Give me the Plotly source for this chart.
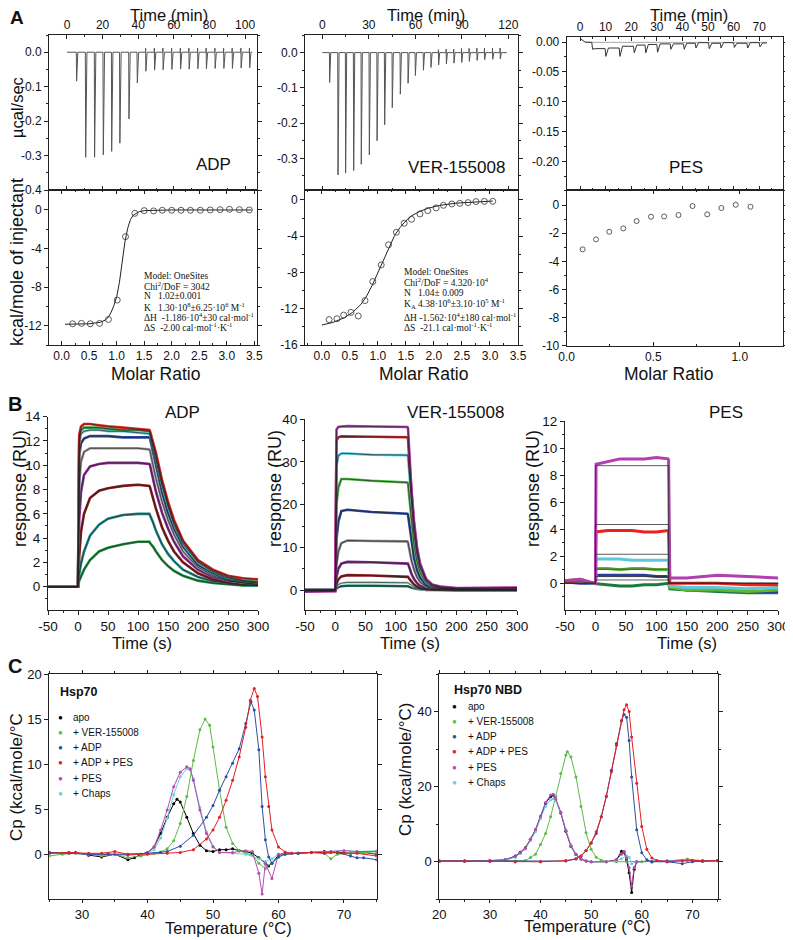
import plotly.graph_objects as go

# The page body has an 8 px margin; the figure is sized to the remaining window
OFF = 8
W, H = 793 - OFF, 940 - OFF
def fx(p): return (p - OFF) / W
def fy(p): return 1 - (p - OFF) / H

SANS = "Arial, Liberation Sans, sans-serif"
SERIF = "Times New Roman, Liberation Serif, serif"

# ---------------- Panel A: ITC raw data ----------------
adp_inj_t = [5.2, 10.3, 15.3, 20.2, 24.9, 29.5, 34.6, 39.3, 44.1, 49.0, 53.8, 58.7, 63.6, 68.4, 73.3, 78.1, 83.0, 87.9, 92.7, 97.6, 102.4]
adp_peak = [-0.084, -0.305, -0.305, -0.298, -0.288, -0.264, -0.194, -0.089, -0.055, -0.052, -0.051, -0.050, -0.049, -0.049, -0.048, -0.048, -0.047, -0.047, -0.047, -0.046, -0.045]
adp_over = [0, 0, 0, 0, 0, 0, 0, 0, 0.012, 0.012, 0.012, 0.012, 0.012, 0.012, 0.012, 0.012, 0.012, 0.012, 0.012, 0.012, 0.012]
adp_run_end = 104.0

ver_inj_t = [4.5, 9.9, 14.8, 20.0, 24.9, 30.1, 35.1, 40.0, 44.9, 50.1, 55.1, 59.8, 65.0, 69.9, 74.8, 79.8, 84.7, 89.7, 94.6, 99.6, 104.5, 109.7, 114.6]
ver_peak = [-0.085, -0.347, -0.342, -0.335, -0.317, -0.290, -0.250, -0.205, -0.156, -0.118, -0.087, -0.065, -0.050, -0.042, -0.035, -0.032, -0.030, -0.028, -0.025, -0.022, -0.020, -0.019, -0.018]
ver_over = [0] * 14 + [0.008, 0.010, 0.010, 0.012, 0.012, 0.013, 0.013, 0.013, 0.013]
ver_run_end = 119.0

pes_inj_t = [4.6, 9.8, 15.3, 20.9, 25.4, 30.0, 35.2, 40.4, 45.0, 50.2, 54.8, 60.0, 65.2, 70.0]
pes_peak = [-0.012, -0.024, -0.024, -0.018, -0.018, -0.017, -0.012, -0.012, -0.010, -0.011, -0.010, -0.009, -0.010, -0.008]
pes_base = [-0.0005, -0.011, -0.010, -0.007, -0.005, -0.004, -0.003, -0.003, -0.002, -0.001, -0.002, -0.001, -0.002, -0.001, -0.0015]
pes_start_t = [0, 2]
pes_start_v = [0.006, 0.0]
pes_run_end = 73.0
pes_ref_t = [2, 73]
pes_ref_v = [-0.0005, -0.0005]

# ---------------- Panel A: integrated heats ----------------
adp_mr = [0.20, 0.36, 0.52, 0.69, 0.85, 1.01, 1.16, 1.33, 1.50, 1.67, 1.83, 2.00, 2.17, 2.34, 2.52, 2.70, 2.88, 3.05, 3.23, 3.41]
adp_heat = [-11.8, -11.76, -11.8, -11.76, -11.35, -9.34, -2.77, -0.35, -0.07, -0.10, -0.03, -0.03, -0.03, -0.03, -0.03, 0.0, 0.03, 0.07, 0.03, 0.0]
adp_fit_x = [0.06, 0.3, 0.5, 0.7, 0.8, 0.85, 0.9, 0.95, 1.0, 1.05, 1.1, 1.15, 1.2, 1.25, 1.3, 1.4, 1.5, 1.7, 2.0, 3.45]
adp_fit_y = [-11.85, -11.85, -11.8, -11.65, -11.4, -11.1, -10.6, -9.9, -9.0, -7.5, -5.4, -3.3, -1.9, -1.0, -0.55, -0.2, -0.07, -0.02, 0.0, 0.0]

ver_mr = [0.13, 0.27, 0.39, 0.52, 0.65, 0.77, 0.91, 1.06, 1.19, 1.33, 1.47, 1.60, 1.75, 1.89, 2.04, 2.17, 2.32, 2.46, 2.61, 2.75, 2.90, 3.05]
ver_heat = [-13.2, -13.1, -12.7, -12.4, -12.8, -11.1, -9.0, -7.16, -4.95, -3.56, -2.57, -2.13, -1.54, -1.17, -0.88, -0.59, -0.44, -0.37, -0.29, -0.18, -0.15, -0.15]
ver_fit_x = [0.0, 0.2, 0.4, 0.55, 0.7, 0.8, 0.9, 1.0, 1.1, 1.2, 1.3, 1.4, 1.5, 1.6, 1.75, 1.9, 2.1, 2.4, 2.7, 3.05]
ver_fit_y = [-13.8, -13.5, -13.0, -12.4, -11.5, -10.6, -9.4, -8.0, -6.5, -5.1, -3.9, -3.0, -2.3, -1.75, -1.25, -0.9, -0.6, -0.35, -0.22, -0.12]

pes_mr = [0.092, 0.169, 0.246, 0.327, 0.404, 0.487, 0.563, 0.646, 0.727, 0.812, 0.894, 0.977, 1.062]
pes_heat = [-3.15, -2.44, -1.9, -1.66, -1.14, -0.83, -0.81, -0.71, -0.07, -0.66, -0.21, 0.02, -0.12]

# ---------------- Panel B: SPR sensorgrams ----------------
spr_adp_t = [-50, -1, 0, 2, 5, 10, 20, 35, 50, 75, 100, 119, 120, 125, 130, 140, 150, 160, 175, 200, 225, 250, 275, 300]
spr_adp = {
    "#e8282b": [0, 0, 0, 12.5, 13.2, 13.4, 13.4, 13.3, 13.2, 13.1, 13.0, 12.9, 12.8, 12.0, 11.0, 8.8, 7.0, 5.5, 3.8, 2.2, 1.4, 0.9, 0.7, 0.6],
    "#3fa14a": [0, 0, 0, 12.2, 12.9, 13.1, 13.1, 13.1, 13.0, 12.9, 12.9, 12.8, 12.7, 11.8, 10.8, 8.6, 6.8, 5.3, 3.7, 2.1, 1.3, 0.8, 0.5, 0.4],
    "#5bc8d5": [0, 0, 0, 11.8, 12.6, 12.8, 12.9, 12.9, 12.8, 12.8, 12.7, 12.6, 12.5, 11.5, 10.5, 8.3, 6.6, 5.1, 3.5, 2.0, 1.2, 0.7, 0.5, 0.3],
    "#2c4aa0": [0, 0, 0, 10.8, 11.8, 12.2, 12.4, 12.4, 12.4, 12.3, 12.3, 12.3, 12.2, 11.1, 10.0, 7.8, 6.1, 4.8, 3.3, 1.8, 1.1, 0.6, 0.4, 0.3],
    "#9a9a9a": [0, 0, 0, 8.5, 10.3, 11.1, 11.4, 11.4, 11.4, 11.4, 11.4, 11.3, 11.2, 10.0, 8.9, 7.0, 5.5, 4.3, 2.9, 1.6, 0.9, 0.5, 0.3, 0.2],
    "#8e2a91": [0, 0, 0, 5.5, 7.8, 9.2, 9.9, 10.1, 10.2, 10.2, 10.2, 10.1, 10.0, 8.9, 7.8, 6.1, 4.8, 3.7, 2.5, 1.4, 0.8, 0.45, 0.3, 0.2],
    "#8b1a1a": [0, 0, 0, 2.5, 4.5, 6.0, 7.3, 7.9, 8.1, 8.3, 8.4, 8.3, 8.2, 7.3, 6.4, 4.9, 3.8, 2.9, 2.0, 1.1, 0.6, 0.35, 0.2, 0.15],
    "#1f8a8a": [0, 0, 0, 1.0, 1.9, 2.9, 4.2, 5.1, 5.6, 5.9, 6.0, 6.0, 5.9, 5.3, 4.6, 3.5, 2.7, 2.1, 1.4, 0.8, 0.45, 0.3, 0.15, 0.1],
    "#1e8c3c": [0, 0, 0, 0.5, 0.9, 1.4, 2.2, 2.9, 3.2, 3.5, 3.7, 3.7, 3.6, 3.3, 2.9, 2.2, 1.7, 1.3, 0.9, 0.5, 0.3, 0.2, 0.1, 0.1],
}

spr_ver_t = [-50, -1, 0, 2, 5, 10, 20, 60, 119, 120, 123, 126, 130, 135, 140, 150, 160, 175, 200, 250, 300]
spr_ver = {
    "#b53bb0": [-0.4, -0.3, -0.3, 37.6, 38.2, 38.3, 38.4, 38.3, 38.2, 38.0, 30.5, 23.0, 16.2, 10.0, 6.2, 2.6, 1.3, 0.8, 0.5, 0.5, 0.6],
    "#d42025": [-0.2, -0.2, -0.2, 35.0, 35.8, 36.0, 36.0, 35.9, 35.8, 35.6, 28.6, 21.6, 15.1, 9.4, 5.8, 2.4, 1.2, 0.6, 0.4, 0.4, 0.5],
    "#52c5d9": [-0.1, -0.1, -0.1, 29.0, 31.5, 32.0, 32.0, 31.7, 31.6, 31.4, 25.2, 19.0, 13.3, 8.3, 5.1, 2.1, 1.0, 0.5, 0.3, 0.2, 0.3],
    "#4fb845": [-0.1, -0.1, -0.1, 20.0, 24.0, 26.0, 26.0, 25.6, 25.2, 25.0, 20.1, 15.2, 10.6, 6.6, 4.1, 1.7, 0.8, 0.4, 0.2, 0.2, 0.2],
    "#2747a1": [0, 0, 0, 12.0, 16.0, 18.5, 18.8, 18.3, 17.9, 17.7, 14.2, 10.7, 7.5, 4.7, 2.9, 1.2, 0.6, 0.3, 0.2, 0.1, 0.1],
    "#8a8a8a": [0, 0, 0, 6.0, 9.0, 11.0, 11.6, 11.5, 11.4, 11.2, 9.0, 6.8, 4.8, 3.0, 1.9, 0.8, 0.4, 0.2, 0.1, 0.1, 0.1],
    "#7e2a8c": [0, 0, 0, 3.0, 5.0, 6.2, 6.6, 6.5, 6.3, 6.2, 5.0, 3.7, 2.6, 1.6, 1.0, 0.4, 0.2, 0.1, 0.1, 0.1, 0.1],
    "#8a1c1c": [0, 0, 0, 1.5, 2.5, 3.2, 3.5, 3.4, 3.2, 3.1, 2.5, 1.9, 1.3, 0.8, 0.5, 0.2, 0.1, 0.1, 0, 0, 0],
    "#a8e0e0": [0, 0, 0, 0.8, 1.3, 1.6, 1.8, 1.8, 1.7, 1.7, 1.4, 1.0, 0.7, 0.45, 0.3, 0.1, 0.05, 0, 0, 0, 0],
    "#137a5a": [-0.1, -0.1, -0.1, 0.4, 0.7, 0.9, 1.0, 1.0, 0.9, 0.9, 0.7, 0.5, 0.4, 0.25, 0.15, 0.05, 0, -0.1, -0.1, -0.1, -0.1],
}

spr_pes_t = [-50, -25, -1, 0, 1, 20, 40, 60, 80, 100, 119, 120, 122, 150, 200, 250, 300]
spr_pes = {
    "#1a7a3a": [0.2, 0.1, 0, 0, 0.0, -0.1, -0.2, -0.2, -0.1, -0.1, 0, 0, -0.4, -0.5, -0.6, -0.7, -0.7],
    "#2a3f9c": [0.1, 0, 0, 0, 0.6, 0.6, 0.6, 0.6, 0.6, 0.5, 0.5, 0.5, -0.3, -0.5, -0.5, -0.6, -0.6],
    "#5cb82e": [0.2, 0.3, 0, 0, 1.1, 1.1, 1.0, 1.1, 1.1, 1.0, 1.0, 1.0, -0.3, -0.5, -0.5, -0.6, -0.5],
    "#5fc8d8": [0.2, 0.1, 0, 0, 1.8, 1.8, 1.8, 1.7, 1.7, 1.7, 1.7, 1.7, -0.2, -0.3, -0.3, -0.4, -0.3],
    "#e8231f": [0.1, 0.2, 0, 0, 3.8, 3.9, 3.9, 3.9, 3.8, 3.8, 3.9, 3.8, 0, 0, 0, -0.1, -0.1],
    "#b03fb0": [0.2, 0.3, 0.0, 0.0, 8.8, 9.0, 9.2, 9.2, 9.2, 9.3, 9.2, 9.1, 0.4, 0.4, 0.6, 0.5, 0.4],
}
pes_fit_levels = [8.7, 4.35, 2.15, 1.05, 0.5, 0.25]
pes_fit_t = [-50, 0, 0, 120, 120, 300]

# ---------------- Panel C: DSC ----------------
dsc_colors = {"apo": "#000000", "+ VER-155008": "#5dbb46", "+ ADP": "#2e4fa3",
              "+ ADP + PES": "#e31e24", "+ PES": "#b54bb0", "+ Chaps": "#6ccfdc"}
hsp_T = {
    "apo": [25, 27, 29, 31, 33, 35, 37, 38, 39, 40, 41, 42, 43, 44, 44.5, 45, 46, 47, 48, 49, 50, 51, 52, 53, 54, 55, 56, 57, 58, 58.5, 59, 60, 61, 63, 65, 67, 69, 71, 73, 75],
    "+ VER-155008": [25, 27, 29, 31, 33, 35, 37, 39, 41, 42, 43, 44, 45, 46, 47, 48, 48.8, 49.5, 50, 51, 52, 53, 54, 55, 56, 57, 58, 59, 60, 61, 63, 65, 67, 68, 69, 71, 73, 75],
    "+ ADP": [25, 28, 31, 34, 37, 40, 42, 43, 45, 47, 49, 50, 51, 52, 53, 54, 55, 55.8, 56.3, 57, 57.5, 58, 58.5, 59, 60, 61, 63, 65, 67, 69, 71, 72, 73, 75],
    "+ ADP + PES": [25, 28, 31, 33, 35, 37, 40, 43, 45, 47, 49, 50, 51, 52, 53, 54, 55, 55.7, 56.3, 56.8, 57.5, 58, 58.5, 59, 60, 61, 62, 65, 68, 70, 72, 75],
    "+ PES": [25, 28, 31, 34, 37, 39, 40, 41, 42, 43, 44, 45, 46, 46.5, 47, 48, 49, 50, 51, 53, 55, 56, 57, 57.5, 58, 59, 60, 62, 65, 68, 70, 72, 75],
    "+ Chaps": [25, 28, 31, 34, 37, 40, 41, 42, 43, 44, 45, 46, 46.5, 47, 48, 49, 50, 51, 53, 55, 57, 58, 59, 60, 62, 65, 68, 70, 72, 75],
}
hsp_cp = {
    "apo": [0.2, 0.1, 0.2, -0.1, -0.3, 0, -0.6, -0.4, 0, 0.2, 0.8, 2.3, 4.1, 5.6, 6.1, 5.8, 4.1, 2.3, 1.0, 0.4, 0.3, 0.5, 0.5, 0.6, 0.4, 0.3, 0.1, -0.4, -1.0, -1.3, -1.0, -0.1, 0.1, 0.1, 0.2, 0.3, 0.2, 0.1, 0.2, 0.0],
    "+ VER-155008": [-0.2, 0, 0.1, 0, -0.2, 0, -0.4, -0.2, 0.1, 0.25, 0.6, 1.5, 3.4, 6.4, 10.4, 13.8, 15.0, 14.3, 11.9, 7.1, 3.0, 1.2, 0.4, 0.1, -0.1, -1.0, -1.6, -1.0, -0.3, 0, 0.1, 0.2, 0.1, -0.5, 0, 0.1, 0.2, 0.1],
    "+ ADP": [0.2, 0.1, 0, 0, 0, 0.1, 0.2, 0.3, 0.9, 2.1, 4.1, 5.4, 7.1, 8.6, 10.1, 11.7, 14.5, 16.9, 16.0, 11.6, 5.3, 1.6, -0.3, -1.0, -0.3, 0, 0.1, 0.2, 0.1, 0.2, -0.2, -0.4, -0.4, -0.6],
    "+ ADP + PES": [0.1, 0.2, 0.1, 0.1, 0.3, 0, 0, 0.1, 0.2, 0.5, 1.7, 2.7, 4.1, 6.0, 8.2, 10.8, 14.1, 17.1, 18.4, 17.5, 13.0, 8.6, 5.3, 2.7, 0.8, 0.26, 0.1, 0.2, 0.2, 0.1, 0.1, -0.2],
    "+ PES": [0.1, 0.2, 0, 0, -0.1, 0, 0.2, 0.8, 2.7, 4.9, 7.5, 9.1, 9.7, 9.5, 8.2, 4.9, 2.3, 0.8, 0.2, 0.2, 0.4, 0.3, -2.1, -4.4, -1.0, -2.7, 0, 0.1, 0.2, 0.3, 0.4, 0.3, 0.3],
    "+ Chaps": [0.1, 0.2, 0, 0, 0, 0.1, 0.5, 1.8, 4.0, 6.6, 8.6, 9.5, 9.4, 8.4, 5.2, 2.5, 0.9, 0.2, 0.1, 0, -0.5, -0.8, -0.5, 0, 0.1, 0.2, 0.3, 0.4, 0.3, 0.4],
}
nbd_T = {
    "apo": [20, 25, 30, 33, 35, 36, 37, 38, 39, 40, 41, 42, 42.5, 43, 44, 45, 46, 47, 48, 49, 50, 53, 55, 56, 56.5, 57, 57.5, 58, 58.5, 59, 62, 65, 69, 72, 75],
    "+ VER-155008": [20, 25, 30, 35, 37, 38, 39, 40, 41, 42, 43, 44, 45, 45.3, 46, 47, 48, 49, 50, 51, 52, 53, 55, 57, 60, 65, 69, 72, 75],
    "+ ADP": [20, 25, 30, 35, 40, 45, 47, 48, 49, 50, 51, 52, 53, 54, 55, 56, 56.5, 57, 57.5, 58, 59, 60, 61, 62, 65, 68, 70, 72, 75],
    "+ ADP + PES": [20, 25, 30, 35, 40, 45, 47, 48, 49, 50, 51, 52, 53, 54, 55, 56, 56.5, 57, 57.5, 58, 59, 60, 61, 62, 63, 65, 68, 70, 72, 75],
    "+ PES": [20, 25, 30, 33, 35, 36, 37, 38, 39, 40, 41, 42, 42.5, 43, 44, 45, 46, 47, 48, 49, 50, 53, 55, 56, 56.5, 57, 57.5, 58, 58.5, 59, 62, 65, 69, 72, 75],
    "+ Chaps": [20, 25, 30, 33, 35, 36, 37, 38, 39, 40, 41, 42, 42.5, 43, 44, 45, 46, 47, 48, 49, 50, 53, 55, 56, 57, 57.5, 58, 59, 62, 65, 69, 72, 75],
}
nbd_cp = {
    "apo": [0.2, 0.2, 0.3, 0.5, 1.5, 2.5, 3.7, 6.0, 8.5, 12.0, 15.6, 17.4, 17.8, 16.5, 13.0, 8.1, 4.1, 1.9, 0.7, 0.2, 0, 0, 0.5, 2.8, 2.5, 0.5, -2.9, -8.2, -2.0, 0, 0, 0.2, 0.5, 0.2, 0.3],
    "+ VER-155008": [0.2, 0.2, 0.3, 0.1, 0.3, 1.1, 2.0, 4.6, 7.5, 12.0, 17.4, 23.5, 28.4, 29.3, 27.9, 22.6, 14.7, 7.7, 3.3, 1.2, 0.4, 0.1, 0, 0, 0, 0.2, 0.7, 0.3, 0.2],
    "+ ADP": [0.2, 0.2, 0.1, 0, 0, 0.2, 0.7, 1.5, 3.0, 5.0, 7.5, 12.0, 17.4, 24.4, 31.5, 37.6, 39.2, 38.5, 32.3, 22.6, 8.5, 2.4, 0.5, 0, 0, -0.5, 0, 0.2, 0.3],
    "+ ADP + PES": [0.2, 0.2, 0.1, 0, 0, 0.3, 0.8, 1.5, 3.0, 5.0, 8.0, 12.0, 17.5, 24.0, 31.0, 37.5, 40.5, 41.8, 40.0, 33.2, 20.9, 9.4, 3.3, 1.0, 0.3, 0, 0.2, 0.3, 0.2, 0.3],
    "+ PES": [0.2, 0.2, 0.3, 0.5, 1.4, 2.4, 3.6, 6.0, 8.6, 12.2, 15.8, 17.8, 18.0, 16.8, 13.2, 8.3, 4.2, 1.9, 0.7, 0.2, 0, 0, 0.5, 2.0, 2.8, 1.0, -1.5, -6.4, -1.5, 0, 0, 0.2, 0.4, 0.2, 0.3],
    "+ Chaps": [0.2, 0.2, 0.3, 0.4, 1.2, 2.2, 3.4, 5.6, 8.0, 11.5, 14.8, 16.5, 16.8, 16.3, 13.2, 8.5, 4.5, 2.1, 0.9, 0.3, 0, 0, 0.3, 0.8, 1.6, 1.2, -0.5, 0, 0, 0.2, 0.4, 0.2, 0.3],
}

# tick values (labels written with a plain hyphen as in the original)
itc_adp_ytop = [0.0, -0.1, -0.2, -0.3, -0.4]
itc_ver_ytop = [0.0, -0.1, -0.2, -0.3]
itc_pes_ytop = [0.0, -0.05, -0.10, -0.15, -0.20]
itc_adp_ybot = [0, -4, -8, -12]
itc_ver_ybot = [0, -4, -8, -12, -16]
itc_pes_ybot = [0, -2, -4, -6, -8, -10]
spr_xticks = [-50, 0, 50, 100, 150, 200, 250, 300]

# ---------------- helpers ----------------
def spike_trace(t_inj, peaks, over, t_end):
    xs, ys = [0.0], [0.0]
    for t, p, o in zip(t_inj, peaks, over):
        xs += [t, t + 0.05, t + 0.2, t + 0.9]
        ys += [0.0, o, p, 0.0]
    xs.append(t_end); ys.append(0.0)
    return xs, ys

def pes_trace():
    xs, ys = list(pes_start_t), list(pes_start_v)
    for i, t in enumerate(pes_inj_t):
        nxt = pes_inj_t[i + 1] if i + 1 < len(pes_inj_t) else pes_run_end
        xs += [t, t + 0.3, t + 1.3, nxt]
        ys += [pes_base[i], pes_peak[i], pes_base[i + 1], pes_base[i + 1]]
    return xs, ys

def tk(vals, fmt):
    return dict(tickmode="array", tickvals=vals,
                ticktext=[format(v, fmt) if v != 0 else format(0.0, fmt) for v in vals])

fig = go.Figure()
layout = {}

def add_axes(n, xdom, ydom, xr, yr, xkw=None, ykw=None, tick_font=12, frame=True, xin=False):
    xid = "xaxis" if n == 1 else f"xaxis{n}"
    yid = "yaxis" if n == 1 else f"yaxis{n}"
    base = dict(showgrid=False, zeroline=False, showline=True, linecolor="#222", linewidth=1,
                ticks="outside", ticklen=4, tickcolor="#222", automargin=False,
                tickfont=dict(family=SANS, size=tick_font, color="#111"))
    xa = dict(base, domain=[fx(xdom[0]), fx(xdom[1])], range=xr, anchor=f"y{'' if n == 1 else n}")
    ya = dict(base, domain=[fy(ydom[1]), fy(ydom[0])], range=yr, anchor=f"x{'' if n == 1 else n}")
    if frame:
        xa["mirror"] = "ticks"; ya["mirror"] = "ticks"
    if xin:
        xa["ticks"] = "inside"
    xa.update(xkw or {}); ya.update(ykw or {})
    layout[xid] = xa; layout[yid] = ya
    return (f"x{'' if n == 1 else n}", f"y{'' if n == 1 else n}")

def minor(d, ticks="outside", ln=2):
    return dict(dtick=d, ticks=ticks, ticklen=ln, tickcolor="#222", showgrid=False)

# ---- Panel A axes ----
a1 = add_axes(1, (49, 257), (35, 190), [-10.1, 106.7], [-0.4, 0.05],
              dict(side="top", dtick=20, tick0=0, minor=minor(10, "inside")),
              dict(tk(itc_adp_ytop, ".1f"), minor=minor(0.05)), xin=True)
a2 = add_axes(2, (49, 257), (190, 345), [-0.23, 3.55], [-14, 2.07],
              dict(dtick=0.5, tick0=0, tickformat=".1f", minor=minor(0.25, "inside")),
              dict(tk(itc_adp_ybot, "g"), minor=minor(2)), xin=True)
a3 = add_axes(3, (305, 518), (35, 190), [-11.2, 126.2], [-0.39, 0.05],
              dict(side="top", dtick=30, tick0=0, minor=minor(15, "inside")),
              dict(tk(itc_ver_ytop, ".1f"), minor=minor(0.05)), xin=True)
a4 = add_axes(4, (305, 518), (190, 345), [-0.3, 3.5], [-16, 1.1],
              dict(dtick=0.5, tick0=0, tickformat=".1f", minor=minor(0.25, "inside")),
              dict(tk(itc_ver_ybot, "g"), minor=minor(2)), xin=True)
a5 = add_axes(5, (566.7, 783), (36.7, 190), [-5.2, 79.3], [-0.248, 0.009],
              dict(side="top", dtick=10, tick0=0, minor=minor(5, "inside")),
              dict(tk(itc_pes_ytop, ".2f"), minor=minor(0.025)), xin=True)
a6 = add_axes(6, (566.7, 783), (190, 345.7), [0, 1.25], [-10, 1.07],
              dict(dtick=0.5, tick0=0, tickformat=".1f", minor=minor(0.25, "inside")),
              dict(tk(itc_pes_ybot, "g"), minor=minor(1)), xin=True)

# ---- Panel B axes ----
b1 = add_axes(7, (48, 258), (416.7, 610), [-50, 300], [-1.92, 14],
              dict(tk(spr_xticks, "g"), minor=minor(25)), dict(dtick=2, tick0=0, minor=minor(1)),
              tick_font=13.5, frame=False)
b2 = add_axes(8, (305, 517), (419.3, 610), [-50, 300], [-4.67, 40],
              dict(tk(spr_xticks, "g"), minor=minor(25)), dict(dtick=10, tick0=0, minor=minor(5)),
              tick_font=13.5, frame=False)
b3 = add_axes(9, (565, 778.3), (421, 610), [-50, 300], [-1.97, 12],
              dict(tk(spr_xticks, "g"), minor=minor(25)), dict(dtick=2, tick0=0, minor=minor(1)),
              tick_font=13.5, frame=False)

# ---- Panel C axes ----
c1 = add_axes(10, (49.3, 376.7), (674, 899.3), [25, 75], [-5, 20],
              dict(dtick=10, tick0=0, ticklen=3, minor=minor(5)), dict(tickvals=[0, 5, 10, 15, 20]),
              tick_font=13)
c2 = add_axes(11, (439.3, 717.7), (674, 899.3), [20, 75], [-10, 50],
              dict(dtick=10, tick0=0, ticklen=3, minor=minor(5)), dict(tickvals=[0, 20, 40], minor=minor(10)),
              tick_font=13)

# ---------------- traces ----------------
def add(tr, axes):
    tr.update(xaxis=axes[0], yaxis=axes[1], showlegend=False, hoverinfo="skip")
    fig.add_trace(tr)

# ITC raw
for (ti, pk, ov, te), axes in [((adp_inj_t, adp_peak, adp_over, adp_run_end), a1),
                               ((ver_inj_t, ver_peak, ver_over, ver_run_end), a3)]:
    xs, ys = spike_trace(ti, pk, ov, te)
    add(go.Scatter(x=xs, y=ys, mode="lines", line=dict(color="#555", width=1)), axes)
add(go.Scatter(x=pes_ref_t, y=pes_ref_v, mode="lines", line=dict(color="#aaa", width=1)), a5)
xs, ys = pes_trace()
add(go.Scatter(x=xs, y=ys, mode="lines", line=dict(color="#333", width=1)), a5)

# ITC integrated
circ = dict(symbol="circle-open", size=6, color="#333", line=dict(width=0.8, color="#333"))
add(go.Scatter(x=adp_fit_x, y=adp_fit_y, mode="lines", line=dict(color="#222", width=1)), a2)
add(go.Scatter(x=adp_mr, y=adp_heat, mode="markers", marker=circ), a2)
add(go.Scatter(x=ver_fit_x, y=ver_fit_y, mode="lines", line=dict(color="#222", width=1)), a4)
add(go.Scatter(x=ver_mr, y=ver_heat, mode="markers", marker=circ), a4)
add(go.Scatter(x=pes_mr, y=pes_heat, mode="markers", marker=dict(circ, size=5)), a6)

# SPR
for t, series, axes in [(spr_adp_t, spr_adp, b1), (spr_ver_t, spr_ver, b2)]:
    for col, vals in reversed(list(series.items())):
        add(go.Scatter(x=t, y=vals, mode="lines", line=dict(color=col, width=2.6)), axes)
    for col, vals in series.items():
        add(go.Scatter(x=t, y=vals, mode="lines", line=dict(color="#222", width=0.7)), axes)
for col, vals in spr_pes.items():
    add(go.Scatter(x=spr_pes_t, y=vals, mode="lines", line=dict(color=col, width=3)), b3)
for lev in pes_fit_levels:
    add(go.Scatter(x=pes_fit_t, y=[0, 0, lev, lev, 0, 0], mode="lines",
                   line=dict(color="#333", width=0.8)), b3)

# DSC
order = ["apo", "+ VER-155008", "+ Chaps", "+ PES", "+ ADP", "+ ADP + PES"]
for Tdict, Cdict, axes in [(hsp_T, hsp_cp, c1), (nbd_T, nbd_cp, c2)]:
    for k in order:
        add(go.Scatter(x=Tdict[k], y=Cdict[k], mode="lines+markers",
                       line=dict(color=dsc_colors[k], width=1),
                       marker=dict(color=dsc_colors[k], size=3)), axes)

# ---------------- annotations ----------------
anns = []
def ann(text, x, y, size, xanchor="center", yanchor="middle", angle=0, family=SANS, color="#111"):
    anns.append(dict(text=text, x=fx(x), y=fy(y), xref="paper", yref="paper", showarrow=False,
                     xanchor=xanchor, yanchor=yanchor, textangle=angle,
                     font=dict(family=family, size=size, color=color)))

ann("<b>A</b>", 17, 17, 19)
ann("<b>B</b>", 15, 404, 20)
ann("<b>C</b>", 15, 666, 20)

for xc in (169, 426, 689):
    ann("Time (min)", xc, 15, 16.5)
for xc in (155, 423, 668):
    ann("Molar Ratio", xc, 374, 17.5)
ann("µcal/sec", 17, 108, 16.5, angle=-90)
ann("kcal/mole of injectant", 17, 262, 18, angle=-90)
ann("ADP", 213, 164, 17)
ann("VER-155008", 456, 167, 17)
ann("PES", 686, 167, 17)

adp_lines = ["Model: OneSites", "Chi<sup>2</sup>/DoF = 3042", "N   1.02±0.001",
             "K   1.30·10<sup>8</sup>±6.25·10<sup>6</sup> M<sup>-1</sup>",
             "ΔH  -1.186·10<sup>4</sup>±30 cal·mol<sup>-1</sup>",
             "ΔS  -2.00 cal·mol<sup>-1</sup>·K<sup>-1</sup>"]
for line, yy in zip(adp_lines, [276, 286, 296.5, 307, 317.3, 327]):
    ann(line, 141.5, yy, 9.5, xanchor="left", family=SERIF)
ver_lines = ["Model: OneSites", "Chi<sup>2</sup>/DoF = 4.320·10<sup>4</sup>", "N   1.04± 0.009",
             "K<sub>A</sub> 4.38·10<sup>6</sup>±3.10·10<sup>5</sup> M<sup>-1</sup>",
             "ΔH -1.562·10<sup>4</sup>±180 cal·mol<sup>-1</sup>",
             "ΔS  -21.1 cal·mol<sup>-1</sup>·K<sup>-1</sup>"]
for line, yy in zip(ver_lines, [272, 282, 292.5, 303.5, 316.7, 327]):
    ann(line, 401.5, yy, 9.5, xanchor="left", family=SERIF)

ann("ADP", 182, 412, 17)
ann("VER-155008", 455, 412, 17)
ann("PES", 726, 412, 17)
for xc in (20, 275, 533):
    ann("response (RU)", xc, 489, 18, angle=-90)
for xc in (142, 410, 687):
    ann("Time (s)", xc, 643, 16.5)

ann("Cp (kcal/mole/°C", 16, 777, 17, angle=-90)
ann("Cp (kcal/mole/°C)", 405, 770, 17, angle=-90)
ann("Temperature (°C)", 228, 928, 16.5)
ann("Temperature (°C)", 587, 926, 16.5)

leg_names = ["apo", "+ VER-155008", "+ ADP", "+ ADP + PES", "+ PES", "+ Chaps"]
ann("<b>Hsp70</b>", 58, 692, 12.5, xanchor="left")
for nm, yy in zip(leg_names, [717.3, 732.3, 747.5, 762.7, 778, 793]):
    ann("●", 60, yy, 8, color=dsc_colors[nm])
    ann(nm, 70.5, yy, 10, xanchor="left")
ann("<b>Hsp70 NBD</b>", 452, 690, 12.5, xanchor="left")
for nm, yy in zip(leg_names, [706.7, 721.5, 736.5, 751.7, 767, 782.3]):
    ann("●", 454.5, yy, 8, color=dsc_colors[nm])
    ann(nm, 465.5, yy, 10, xanchor="left")

layout.update(template="none", width=W, height=H, autosize=False, margin=dict(l=0, r=0, t=0, b=0, pad=0),
              paper_bgcolor="white", plot_bgcolor="white", annotations=anns,
              font=dict(family=SANS, color="#111"))
fig.update_layout(**layout)
fig.write_html("out.html")
